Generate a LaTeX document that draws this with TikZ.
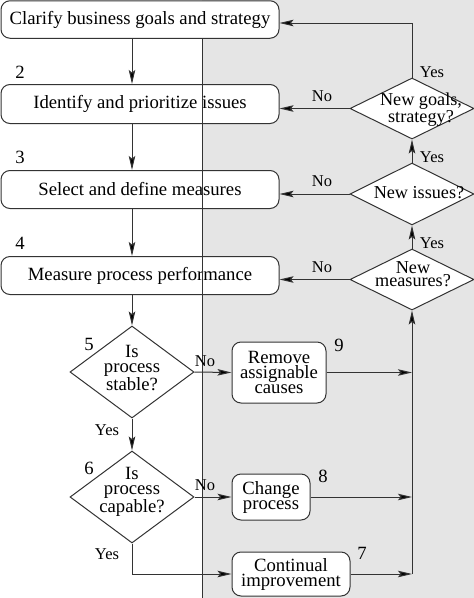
\documentclass[tikz,border=0pt]{standalone}
\usepackage{fontspec}
\setmainfont{Liberation Serif}
\usetikzlibrary{shapes.geometric,arrows.meta,calc}
\definecolor{bggray}{gray}{0.9}
\definecolor{ink}{gray}{0.2}
\begin{document}
\begin{tikzpicture}[x=1pt,y=-1pt,
  every node/.style={inner sep=0pt, text=black},
  box/.style={draw=ink, line width=1pt, rounded corners=9pt, fill=white, font=\fontsize{18.7}{15}\selectfont, align=center},
  dia/.style={draw=ink, line width=1pt, diamond, fill=white, minimum width=124pt},
  dtext/.style={font=\fontsize{18.7}{15}\selectfont, align=center},
  lab/.style={font=\fontsize{16.5}{16}\selectfont},
  num/.style={font=\fontsize{18.7}{18}\selectfont},
  arr/.style={draw=ink, line width=1pt, -{Stealth[length=14pt,width=6.5pt,inset=2.5pt,fill=black]}},
  con/.style={draw=ink, line width=1pt}]
\useasboundingbox (0,0) rectangle (474,598);
\fill[bggray] (202,0) rectangle (474,598);

% left column boxes
\node[box, minimum width=278pt, minimum height=37.5pt] (b1) at (140,19.5) {Clarify business goals and strategy};
\node[box, minimum width=278pt, minimum height=39pt] (b2) at (140,104) {Identify and prioritize issues};
\node[box, minimum width=278pt, minimum height=38pt] (b3) at (140,189.5) {Select and define measures};
\node[box, minimum width=278pt, minimum height=38pt] (b4) at (140,275.5) {Measure process performance};

\draw[con] (b1.south -| 202,0) -- (202,598);

% decisions left
\node[dia, minimum height=92pt] (d5) at (132,372) {};
\node[dtext] (t5) at (132,368) {Is\\process\\stable?};
\node[dia, minimum height=92pt] (d6) at (132,497) {};
\node[dtext] (t6) at (132,492) {Is\\process\\capable?};

% action boxes
\node[box, minimum width=94pt, minimum height=61pt] (b9) at (279,372.5) {Remove\\assignable\\causes};
\node[box, minimum width=78pt, minimum height=46pt] (b8) at (271,497) {Change\\process};
\node[box, minimum width=118pt, minimum height=44pt] (b7) at (291,574) {Continual\\improvement};

% decisions right
\node[dia, minimum height=61pt] (ng) at (412,108.5) {};
\node[dtext, font=\fontsize{18.2}{13}\selectfont] (tng) at (421,110) {New goals,\\strategy?};
\node[dia, minimum height=62pt] (ni) at (412,194) {};
\node[dtext, font=\fontsize{18.2}{13}\selectfont] (tni) at (419,193) {New issues?};
\node[dia, minimum height=61pt] (nm) at (412,279.5) {};
\node[dtext, font=\fontsize{18.2}{13}\selectfont] (tnm) at (413,274) {New\\measures?};

% step numbers
\node[num] (n2) at (20,72) {2};
\node[num] (n3) at (20,157) {3};
\node[num] (n4) at (20,243) {4};
\node[num] (n5) at (89,344) {5};
\node[num] (n6) at (89,468) {6};
\node[num] (n9) at (339,345) {9};
\node[num] (n8) at (323,476) {8};
\node[num] (n7) at (362,553) {7};

% main flow
\draw[arr] (b1.south -| d5.north) -- (b2.north -| d5.north);
\draw[arr] (b2.south -| d5.north) -- (b3.north -| d5.north);
\draw[arr] (b3.south -| d5.north) -- (b4.north -| d5.north);
\draw[arr] (b4.south -| d5.north) -- (d5.north);
\draw[arr] (d5.south) -- (d6.north);
\node[lab] (y5) at (107,430) {Yes};
\draw[arr] (d6.south) |- (b7.west);
\node[lab] (y6) at (107,554) {Yes};
\draw[arr] (d5.east) -- (b9.west);
\node[lab] (no5) at (205,361) {No};
\draw[arr] (d6.east) -- (b8.west);
\node[lab] (no6) at (205,485) {No};

% right feedback
\coordinate (j9) at (b9.east -| nm.south);
\coordinate (j8) at (b8.east -| nm.south);
\coordinate (j7) at (b7.east -| nm.south);
\draw[arr] (b9.east) -- (j9);
\draw[arr] (b8.east) -- (j8);
\draw[arr] (b7.east) -- (j7);
\draw[arr] (j7) -- (nm.south);
\draw[arr] (nm.north) -- (ni.south);
\draw[arr] (ni.north) -- (ng.south);
\coordinate (top) at ($(b1.east)+(0,3.5)$);
\draw[arr] (ng.north) |- (top);

\draw[arr] (ng.west) -- (ng.west -| b2.east);
\draw[arr] (ni.west) -- (ni.west -| b3.east);
\draw[arr] (nm.west) -- (nm.west -| b4.east);

\node[lab] (noA) at (322,96) {No};
\node[lab] (noB) at (322,181) {No};
\node[lab] (noC) at (322,267) {No};
\node[lab] (yA) at (432,72) {Yes};
\node[lab] (yB) at (432,157) {Yes};
\node[lab] (yC) at (432,243) {Yes};
\end{tikzpicture}
\end{document}
